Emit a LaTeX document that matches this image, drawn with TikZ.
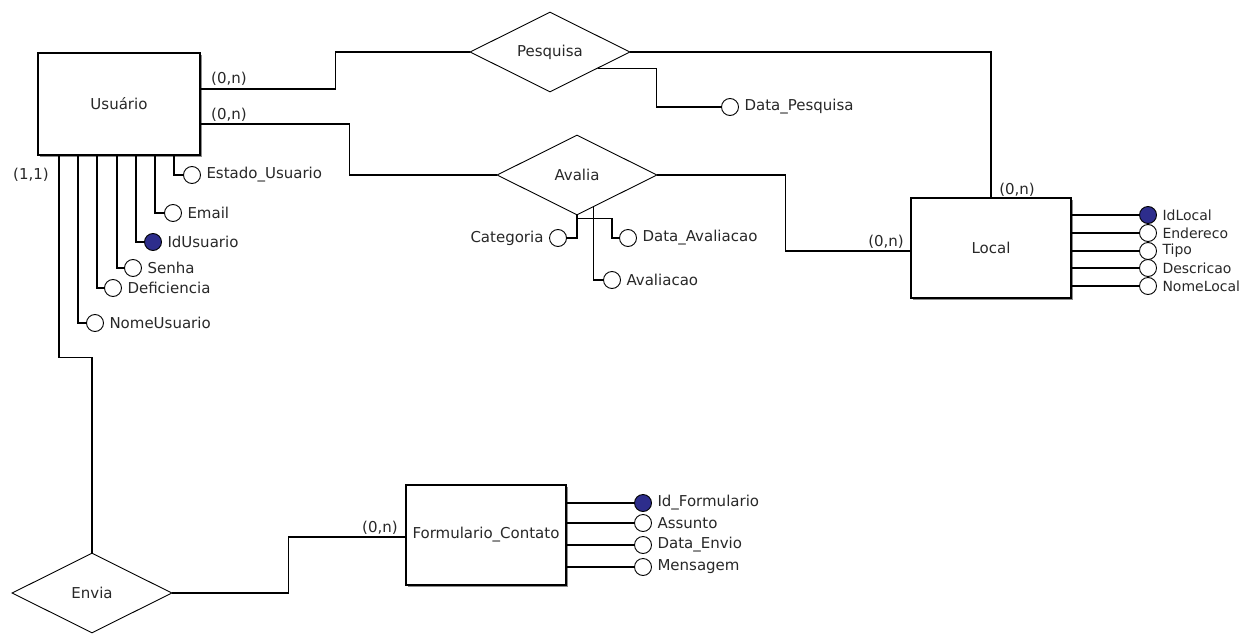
\documentclass[tikz,border=0pt]{standalone}
\usepackage{fontspec}
\setmainfont{DejaVu Sans}
\usetikzlibrary{shapes.geometric,shadows,calc}
\definecolor{keyblue}{RGB}{45,45,140}
\definecolor{ink}{RGB}{40,40,40}
\begin{document}
\begin{tikzpicture}[x=1pt,y=-1pt,
  font=\fontsize{15}{18}\selectfont,
  line width=1.1pt,
  text=ink,
  label distance=4pt,
  every label/.style={inner sep=1pt},
  entity/.style={draw, fill=white, minimum width=160pt, minimum height=100pt, inner sep=0pt,
    drop shadow={shadow xshift=2pt, shadow yshift=-2pt, fill=black!45, opacity=1}},
  rel/.style={draw, diamond, fill=white, aspect=2, minimum width=160pt, minimum height=80pt,
    inner sep=0pt, line width=0.9pt},
  attr/.style={draw, circle, fill=white, minimum size=17pt, inner sep=0pt, line width=0.9pt},
  keyattr/.style={attr, fill=keyblue},
  card/.style={inner sep=0pt}
]
% canvas
\fill[white] (0,0) rectangle (1246,634);
\useasboundingbox (0,0) rectangle (1246,634);

% entities
\node[entity, minimum width=162pt, minimum height=102pt] (usu) at (119,104) {Usuário};
\node[entity] (loc) at (991,248) {Local};
\node[entity] (frm) at (486,535) {Formulario\_Contato};

% relationships
\node[rel] (pes) at (550,52) {Pesquisa};
\node[rel] (ava) at (577,175) {Avalia};
\node[rel] (env) at (92,593) {Envia};

% attributes of Usuario
\node[attr, label=right:Estado\_Usuario] (uest) at (192,175) {};
\node[attr, label=right:Email] (uema) at (173,213) {};
\node[keyattr, label=right:IdUsuario] (uid) at (153,242) {};
\node[attr, label=right:Senha] (usen) at (133,268) {};
\node[attr, label=right:Deficiencia] (udef) at (113,288) {};
\node[attr, label=right:NomeUsuario] (unom) at (95,323) {};

\draw (uest.west) -| ([xshift=55pt]usu.south);
\draw (uema.west) -| ([xshift=36pt]usu.south);
\draw (uid.west) -| ([xshift=17pt]usu.south);
\draw (usen.west) -| ([xshift=-2pt]usu.south);
\draw (udef.west) -| ([xshift=-22pt]usu.south);
\draw (unom.west) -| ([xshift=-41pt]usu.south);

% attribute of Pesquisa
\node[attr, label=right:Data\_Pesquisa] (pdat) at (730,107) {};
\draw ($(pes.east)!0.4!(pes.south)$) -- ++(58,0) |- (pdat.west);

% attributes of Avalia
\node[attr, label=left:Categoria] (acat) at (558,238) {};
\node[attr, label=right:Data\_Avaliacao] (adat) at (628,238) {};
\node[attr, label=right:Avaliacao] (aval) at (612,280) {};
\draw (ava.south) |- (acat.east);
\draw (ava.south) -- ++(0,3) -- ++(35,0) |- (adat.west);
\draw ($(ava.south)!0.21!(ava.east)$) |- (aval.west);

% attributes of Local
\begin{scope}[every node/.append style={minimum size=18pt},
  every label/.append style={font=\fontsize{14}{16}\selectfont}]
\node[keyattr, label=right:IdLocal] (lid) at (1148,215) {};
\node[attr, label=right:Endereco] (lend) at (1148,233) {};
\node[attr, label=right:Tipo] (ltip) at (1148,251) {};
\node[attr, label=right:Descricao] (ldes) at (1148,268) {};
\node[attr, label=right:NomeLocal] (lnom) at (1148,286) {};
\end{scope}
\foreach \a in {lid,lend,ltip,ldes,lnom}
  \draw (\a.west) -- (\a.west -| loc.east);

% attributes of Formulario_Contato
\begin{scope}[every node/.append style={minimum size=20pt}]
\node[keyattr, label=right:Id\_Formulario] (fid) at (643,503) {};
\node[attr, label=right:Assunto] (fass) at (643,523) {};
\node[attr, label=right:Data\_Envio] (fdat) at (643,545) {};
\node[attr, label=right:Mensagem] (fmen) at (643,567) {};
\end{scope}
\foreach \a in {fid,fass,fdat,fmen}
  \draw (\a.west) -- (\a.west -| frm.east);

% relationship connectors
\draw ([yshift=15pt]usu.east) -- ++(135,0) |- (pes.west);
\draw ([yshift=-20pt]usu.east) -- ++(149,0) |- (ava.west);
\draw (pes.east) -| (loc.north);
\draw (ava.east) -- ++(128,0) |- ([yshift=-3pt]loc.west);
\draw ([xshift=-60pt]usu.south) -- ++(0,202) -| (env.north);
\draw (env.east) -- ++(116,0) |- ([yshift=-2pt]frm.west);

% cardinalities
\node[card] (c1) at (229,79) {(0,n)};
\node[card] (c2) at (229,115) {(0,n)};
\node[card] (c3) at (31,175) {(1,1)};
\node[card] (c4) at (1017,190) {(0,n)};
\node[card] (c5) at (886,242) {(0,n)};
\node[card] (c6) at (380,528) {(0,n)};
\end{tikzpicture}
\end{document}
